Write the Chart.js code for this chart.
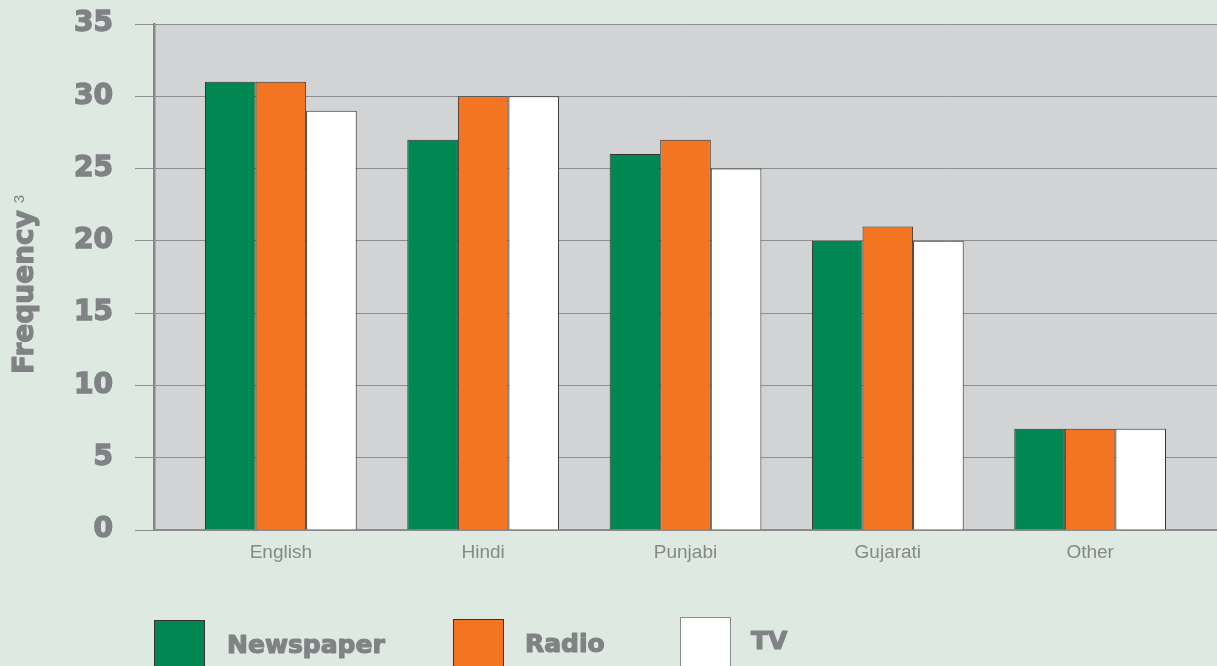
<!DOCTYPE html>
<html>
<head>
<meta charset="utf-8">
<script src="https://cdn.jsdelivr.net/npm/chart.js@4.4.1/dist/chart.umd.min.js"></script>
<style>
  html, body { margin: 0; padding: 0; background: #dde9e1; }
  canvas { display: block; }
</style>
</head>
<body>
<canvas id="chart" width="1217" height="666"></canvas>
<script>
// Data
const categories = ["English", "Hindi", "Punjabi", "Gujarati", "Other"];
const newspaper = [31, 27, 26, 20, 7];
const radio = [31, 30, 27, 21, 7];
const tv = [29, 30, 25, 20, 7];
const seriesNames = ["Newspaper", "Radio", "TV"];

const GREY = "#808285";
const toPoints = arr => arr.map((v, i) => ({ x: i, y: v }));

// grey plot area behind the grid
const plotBg = {
  id: "plotBg",
  beforeDraw(chart) {
    const { ctx, chartArea: a } = chart;
    ctx.save();
    ctx.fillStyle = "#d1d3d4";
    ctx.fillRect(a.left, a.top, a.right - a.left, a.bottom - a.top);
    ctx.restore();
  }
};

// heavy grey text, the stroke fattens the bold face a little
function heavyText(ctx, str, x, y, strokeW) {
  ctx.fillStyle = GREY;
  ctx.strokeStyle = GREY;
  ctx.lineWidth = strokeW;
  ctx.lineJoin = "round";
  ctx.strokeText(str, x, y);
  ctx.fillText(str, x, y);
}

// rotated axis title with the little footnote mark
const yTitle = {
  id: "yTitle",
  afterDraw(chart) {
    const ctx = chart.ctx;
    ctx.save();
    ctx.translate(33, 292);
    ctx.rotate(-Math.PI / 2);
    ctx.font = "bold 28px 'DejaVu Sans'";
    ctx.textAlign = "center";
    ctx.textBaseline = "alphabetic";
    heavyText(ctx, "Frequency", 0, 0, 1.2);
    ctx.restore();

    ctx.save();
    ctx.fillStyle = GREY;
    ctx.translate(24, 199);
    ctx.rotate(-Math.PI / 2);
    ctx.font = "15px 'Liberation Sans'";
    ctx.textAlign = "center";
    ctx.textBaseline = "alphabetic";
    ctx.fillText("3", 0, 0);
    ctx.restore();
  }
};

// legend along the bottom, boxes run off the canvas edge
const bottomLegend = {
  id: "bottomLegend",
  afterDraw(chart) {
    const ctx = chart.ctx;
    const spots = [
      { box: 154, top: 620, text: 227, base: 653 },
      { box: 453, top: 619, text: 525, base: 652 },
      { box: 680, top: 617, text: 751, base: 649 }
    ];
    chart.data.datasets.forEach((ds, i) => {
      const p = spots[i];
      ctx.save();
      ctx.fillStyle = ds.backgroundColor;
      ctx.fillRect(p.box, p.top, 50, 60);
      ctx.strokeStyle = i === 2 ? "#8a8a8a" : "#333";
      ctx.lineWidth = 1;
      ctx.strokeRect(p.box + 0.5, p.top + 0.5, 50, 60);
      ctx.font = "bold 25px 'DejaVu Sans'";
      ctx.textBaseline = "alphabetic";
      heavyText(ctx, ds.label, p.text, p.base, 1.2);
      ctx.restore();
    });
  }
};

new Chart(document.getElementById("chart"), {
  type: "bar",
  data: {
    datasets: [
      { label: seriesNames[0], data: toPoints(newspaper), backgroundColor: "#008752" },
      { label: seriesNames[1], data: toPoints(radio), backgroundColor: "#f47521" },
      { label: seriesNames[2], data: toPoints(tv), backgroundColor: "#ffffff" }
    ]
  },
  options: {
    responsive: false,
    animation: false,
    layout: { padding: { top: 24, left: 0, right: 0, bottom: 0 } },
    datasets: {
      bar: {
        categoryPercentage: 0.75,
        barPercentage: 1.0,
        borderColor: "#333333",
        borderWidth: 1
      }
    },
    plugins: {
      legend: { display: false },
      tooltip: { enabled: false }
    },
    scales: {
      x: {
        type: "linear",
        offset: false,
        min: -0.627,
        max: 4.627,
        afterBuildTicks: s => { s.ticks = categories.map((_, i) => ({ value: i })); },
        afterFit: s => { s.height = 136; },
        grid: { display: false, drawTicks: false, offset: false },
        border: { display: true, color: "#8a8b8d", width: 2 },
        ticks: {
          padding: 11,
          maxRotation: 0,
          autoSkip: false,
          color: "#86888a",
          font: { family: "'Liberation Sans'", size: 19 },
          callback: v => categories[v] ?? ""
        }
      },
      y: {
        min: 0,
        max: 35,
        afterFit: s => { s.width = 154; s.paddingTop = 0; s.paddingBottom = 0; },
        grid: {
          color: "#8c8e90",
          lineWidth: 1,
          tickLength: 19,
          drawTicks: true
        },
        border: { display: true, color: "#858789", width: 2.5 },
        ticks: {
          stepSize: 5,
          padding: 22,
          color: GREY,
          textStrokeColor: GREY,
          textStrokeWidth: 1.5,
          font: { family: "'DejaVu Sans'", size: 28, weight: "bold" }
        }
      }
    }
  },
  plugins: [plotBg, yTitle, bottomLegend]
});
</script>
</body>
</html>
